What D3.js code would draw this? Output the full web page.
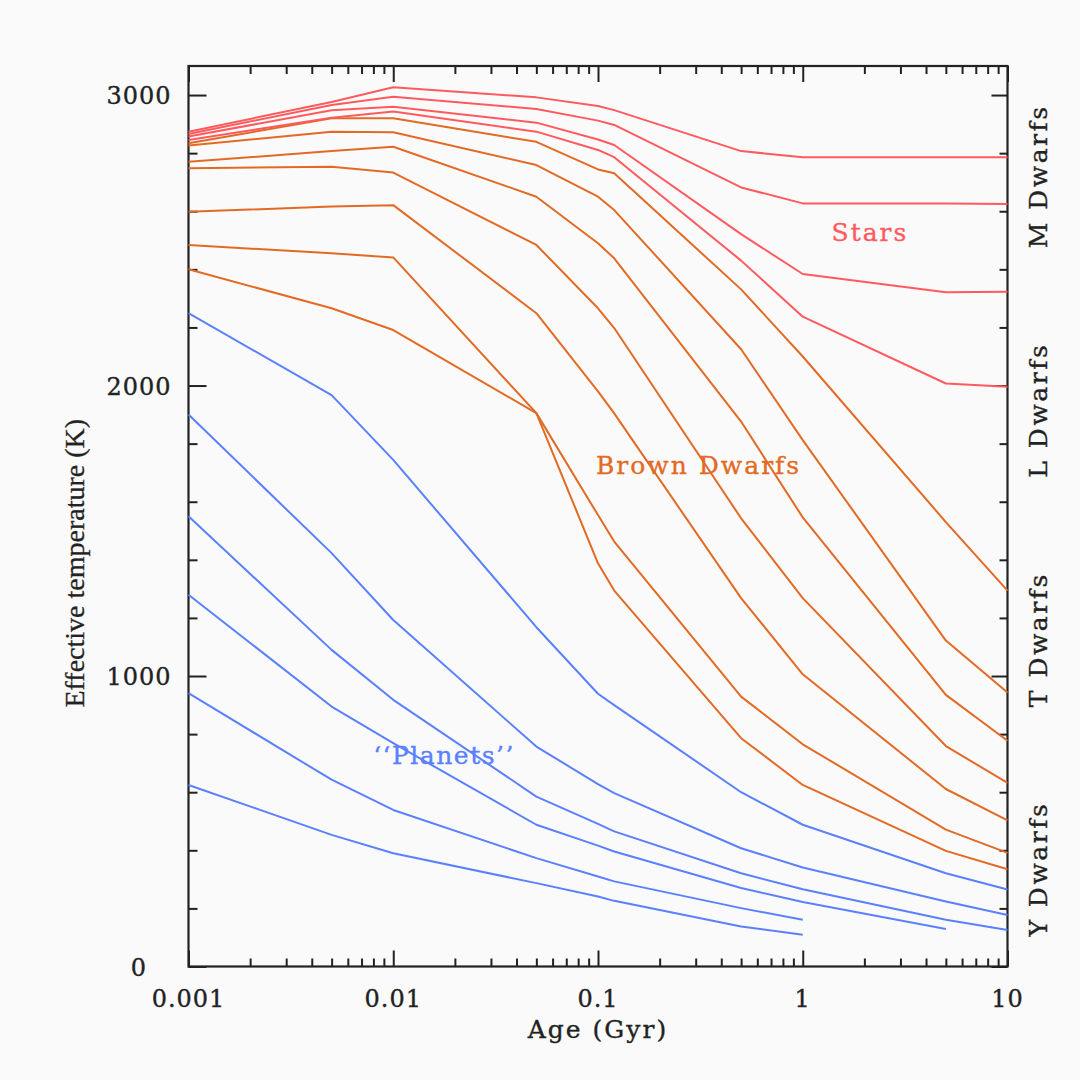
<!DOCTYPE html>
<html><head><meta charset="utf-8">
<script src="https://cdn.jsdelivr.net/npm/d3@7"></script>
<style>html,body{margin:0;padding:0;background:#fafafa}</style>
</head><body>
<svg id="c" width="1080" height="1080"></svg>
<script>
// ---------- DATA ----------
const ages = [0.001, 0.005, 0.01, 0.05, 0.1, 0.12, 0.5, 1, 5, 10];

const starS1 = [2874, 2976, 3027, 2992, 2962, 2948, 2807, 2786, 2786, 2786];
const starS2 = [2866, 2966, 2994, 2952, 2912, 2897, 2682, 2627, 2627, 2625];
const starS3 = [2857, 2948, 2960, 2905, 2847, 2828, 2521, 2384, 2321, 2323];
const starS4 = [2845, 2922, 2943, 2874, 2811, 2786, 2430, 2237, 2007, 1996];

const bdB1 = [2834, 2920, 2920, 2839, 2744, 2731, 2331, 2100, 1530, 1294];
const bdB2 = [2826, 2874, 2872, 2759, 2650, 2604, 2125, 1812, 1122, 943];
const bdB3 = [2770, 2807, 2822, 2650, 2490, 2438, 1876, 1546, 935, 777];
const bdB4 = [2748, 2753, 2733, 2484, 2266, 2198, 1543, 1268, 759, 632];
const bdB5 = [2598, 2616, 2621, 2249, 1980, 1904, 1268, 1006, 611, 503];
const bdB6 = [2484, 2455, 2441, 1905, 1554, 1463, 929, 765, 471, 391];
const bdB7 = [2400, 2266, 2191, 1905, 1388, 1294, 786, 625, 398, 335];

const plP1 = [2249, 1967, 1744, 1168, 939, 900, 600, 488, 321, 265];
const plP2 = [1900, 1423, 1193, 757, 628, 597, 407, 341, 224, 177];
const plP3 = [1550, 1090, 918, 585, 491, 465, 321, 266, 161, 126];
const plP4 = [1280, 895, 769, 488, 416, 396, 270, 222, 129];
const plP5 = [941, 643, 539, 373, 310, 293, 201, 161];
const plP6 = [625, 453, 390, 287, 241, 226, 138, 109];

const groupNames = ["Stars", "Brown Dwarfs", "\u2018\u2018Planets\u2019\u2019"];
const starSeries = [starS1, starS2, starS3, starS4];
const bdSeries = [bdB1, bdB2, bdB3, bdB4, bdB5, bdB6, bdB7];
const planetSeries = [plP1, plP2, plP3, plP4, plP5, plP6];

const xTickValues = [0.001, 0.01, 0.1, 1, 10];
const xTickLabels = ["0.001", "0.01", "0.1", "1", "10"];
const yTickValues = [0, 1000, 2000, 3000];
const yTickLabels = ["0", "1000", "2000", "3000"];
const spectralNames = ["M Dwarfs", "L Dwarfs", "T Dwarfs", "Y Dwarfs"];

// ---------- LAYOUT ----------
const L = 188.5, R = 1007.5, T = 66, B = 966.5;
const colStar = "#ff5a5e", colBD = "#e26a24", colPl = "#5a80ff";
const ink = "#222";

const svg = d3.select("#c");
svg.append("rect").attr("width",1080).attr("height",1080).attr("fill","#fafafa");

const x = d3.scaleLog().domain([0.001, 10]).range([L, R]);
const y = d3.scaleLinear().domain([0, 3100]).range([B, T]);

// minor tick positions
const xMinor = [];
for (let d = 0.001; d < 10; d *= 10) for (let k = 2; k <= 9; k++) xMinor.push(+(d*k).toPrecision(3));
const yMinor = d3.range(0, 3101, 200).filter(v => v % 1000 !== 0);

const gAx = svg.append("g");
function tickAxis(axisFn, scale, vals, size, transform) {
  const g = gAx.append("g").attr("transform", transform)
    .call(axisFn(scale).tickValues(vals).tickSize(size).tickFormat(""));
  g.select(".domain").remove();
  g.selectAll(".tick line").attr("stroke", ink).attr("stroke-width", 2);
  return g;
}
tickAxis(d3.axisTop, x, xTickValues, 16, `translate(0,${B})`);
tickAxis(d3.axisTop, x, xMinor, 8, `translate(0,${B})`);
tickAxis(d3.axisBottom, x, xTickValues, 16, `translate(0,${T})`);
tickAxis(d3.axisBottom, x, xMinor, 8, `translate(0,${T})`);
tickAxis(d3.axisRight, y, yTickValues, 18, `translate(${L},0)`);
tickAxis(d3.axisRight, y, yMinor, 9, `translate(${L},0)`);
tickAxis(d3.axisLeft, y, yTickValues, 16, `translate(${R},0)`);
tickAxis(d3.axisLeft, y, yMinor, 8, `translate(${R},0)`);

svg.append("rect").attr("x", L).attr("y", T).attr("width", R-L).attr("height", B-T)
  .attr("fill","none").attr("stroke", ink).attr("stroke-width", 2.2);

const fontTick = "'DejaVu Serif', serif";
function txt(sel, size, ls, color) {
  return sel.attr("font-family", fontTick).attr("font-size", size)
    .attr("letter-spacing", ls).attr("fill", color)
    .attr("stroke", color).attr("stroke-width", 0.35);
}
txt(svg.append("g").selectAll("text").data(xTickValues).join("text")
  .attr("x", d => x(d)).attr("y", B + 40).attr("text-anchor","middle"), 24, 1, ink)
  .text((d,i) => xTickLabels[i]);
txt(svg.append("g").selectAll("text").data(yTickValues).join("text")
  .attr("x", 139).attr("y", d => y(d) + 9).attr("text-anchor","middle"), 24, 1, ink)
  .text((d,i) => yTickLabels[i]);

txt(svg.append("text").attr("x", (L+R)/2).attr("y", 1038).attr("text-anchor","middle"), 25, 2, ink)
  .text("Age (Gyr)");
svg.append("text").attr("transform", `translate(84,${(T+B)/2 + 47}) rotate(-90)`)
  .attr("text-anchor","middle").attr("font-family","'Liberation Serif', serif")
  .attr("font-size", 28).attr("fill", ink).attr("stroke", ink).attr("stroke-width", 0.3)
  .text("Effective temperature (K)");

const spectralY = [y(2720), y(1915), y(1125), y(335)];
txt(svg.append("g").selectAll("text").data(spectralNames).join("text")
  .attr("transform", (d,i) => `translate(1047,${spectralY[i]}) rotate(-90)`)
  .attr("text-anchor","middle"), 25, 2.5, ink).text(d => d);

// ---------- CURVES ----------
const line = d3.line().x(d => x(d[0])).y(d => y(d[1]));
function drawGroup(series, color) {
  svg.append("g").selectAll("path").data(series).join("path")
    .attr("d", s => line(s.map((v,i) => [ages[i], v])))
    .attr("fill","none").attr("stroke", color).attr("stroke-width", 2)
    .attr("stroke-linejoin","round");
}
drawGroup(planetSeries, colPl);
drawGroup(bdSeries, colBD);
drawGroup(starSeries, colStar);

const grpLab = [
  {age: 2.13, t: 2528, color: colStar, ls: 2},
  {age: 0.31, t: 1726, color: colBD, ls: 2},
  {age: 0.0177, t: 728, color: colPl, ls: 1.5}
];
svg.append("g").selectAll("text").data(groupNames).join("text")
  .attr("x", (d,i) => x(grpLab[i].age)).attr("y", (d,i) => y(grpLab[i].t) + 9)
  .attr("text-anchor","middle").attr("font-family", fontTick).attr("font-size", 25)
  .attr("letter-spacing", (d,i) => grpLab[i].ls)
  .attr("fill", (d,i) => grpLab[i].color).attr("stroke", (d,i) => grpLab[i].color)
  .attr("stroke-width", 0.35).text(d => d);
</script>
</body></html>
